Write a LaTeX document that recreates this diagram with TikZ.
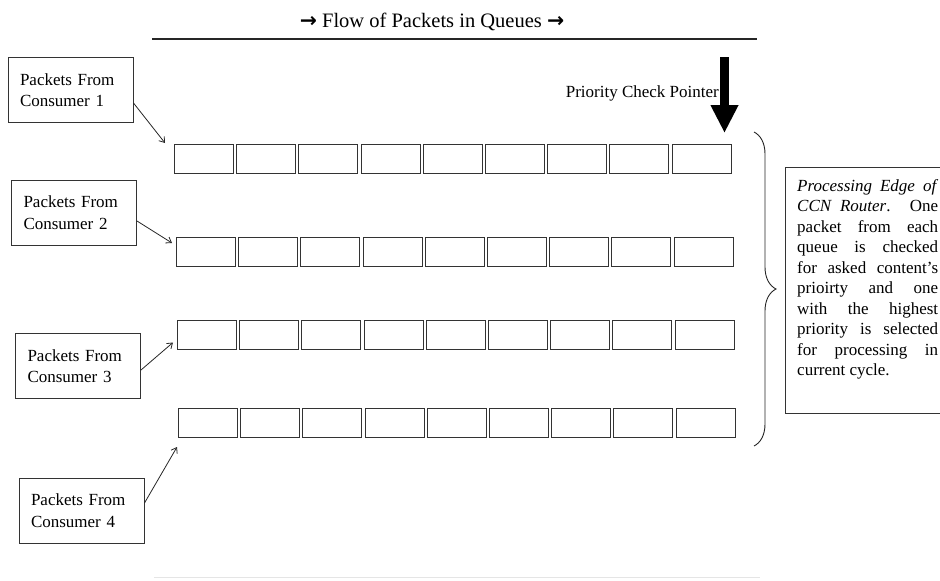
\documentclass[tikz,border=0pt]{standalone}
\usepackage{fontspec}
\setmainfont{Liberation Serif}
\newfontfamily\arrowfont{DejaVu Sans}
\usetikzlibrary{arrows.meta,decorations.pathreplacing}

\tikzset{
  cell/.style={draw=black!80, line width=1pt, minimum width=59pt, minimum height=29pt, inner sep=0pt},
  source/.style={draw=black!80, line width=1pt, text width=101pt, align=left,
    minimum height=65pt, inner xsep=12pt, font=\fontsize{17}{21.5}\selectfont},
  feed/.style={->, line width=0.8pt, black!85},
}

\begin{document}
\begin{tikzpicture}[x=1pt,y=-1pt,>={Straight Barb[length=5pt,width=7pt]}]
\useasboundingbox (0,0) rectangle (940,581);
% heading with rule
\node (title) at (432,22) {\fontsize{20.5}{24}\selectfont{\arrowfont\bfseries →} Flow of Packets in Queues {\arrowfont\bfseries →}};
\coordinate (ruleL) at (152,39);
\coordinate (ruleR) at (757,39);
\draw[line width=1.2pt, black!85] (ruleL) -- (ruleR);
\coordinate (footL) at (154,577);
\coordinate (footR) at (760,577);
\draw[black!10] (footL) -- (footR);
% queues, nine slots each
\foreach \r/\qx/\qy in {1/174/144, 2/176/237, 3/177/320, 4/178/408} {
  \foreach \i in {1,...,9} {
    \node[cell, anchor=north west] (q\r-\i) at ({\qx+(\i-1)*62.2},\qy) {};
  }
}
% consumers
\node[source] (src1) at (70.5,90) {Packets From\\Consumer 1};
\node[source] (src2) at (74,212.5) {Packets From\\Consumer 2};
\node[source] (src3) at (78,366) {Packets From\\Consumer 3};
\node[source] (src4) at (81.5,510.5) {Packets From\\Consumer 4};
\draw[feed] ([yshift=-13pt]src1.east) -- ([xshift=-9pt,yshift=1pt]q1-1.north west);
\draw[feed] ([yshift=-8.5pt]src2.east) -- ([xshift=-4pt,yshift=-6pt]q2-1.north west);
\draw[feed] ([yshift=-4pt]src3.east) -- ([xshift=-4pt,yshift=-7.5pt]q3-1.west);
\draw[feed] ([yshift=7.5pt]src4.east) -- ([xshift=-1pt,yshift=-9pt]q4-1.south west);
% pointer
\node[anchor=east, inner sep=0pt, font=\fontsize{17}{20}\selectfont] (ptrlabel) at (719,93) {Priority Check Pointer};
\coordinate (ptrtop) at (724.5,57);
\coordinate (ptrtip) at (724.5,133);
\draw[line width=9pt, -{Triangle[length=28pt,width=26pt]}] (ptrtop) -- (ptrtip);
% brace and note
\coordinate (braceT) at (754,132);
\coordinate (braceB) at (754,446);
\draw[line width=0.9pt, black!85, decorate, decoration={brace, amplitude=22pt}] (braceT) -- (braceB);
\node[draw=black!80, line width=1pt, minimum width=170pt, minimum height=246pt, anchor=north west, inner sep=0pt] (edgebox) at (785,167) {};
\node[text width=141pt, align=justify, anchor=north west, inner sep=0pt, font=\fontsize{17}{20.5}\selectfont]
  (edgetext) at ([xshift=12pt,yshift=-12pt]edgebox.north west)
  {\textit{Processing Edge of}\linebreak \textit{CCN Router}. One\linebreak packet from each\linebreak queue is checked\linebreak for asked content's\linebreak prioirty and one\linebreak with the highest\linebreak priority is selected\linebreak for processing in\linebreak current cycle.};
\end{tikzpicture}
\end{document}
